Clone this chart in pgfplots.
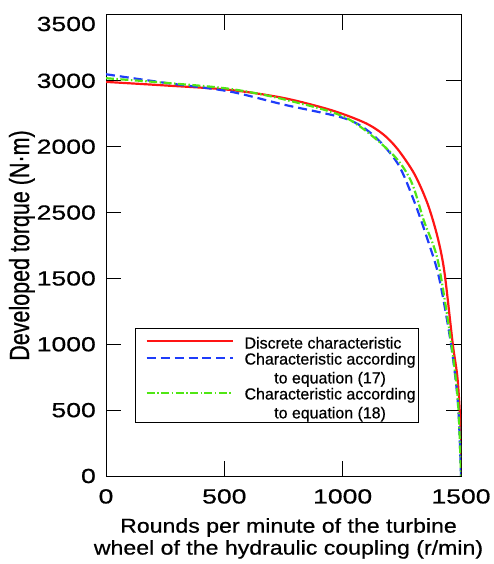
\documentclass[border=0pt]{standalone}
\usepackage{pgfplots}
\pgfplotsset{compat=1.18}
\usepackage{fontspec}
\setmainfont{Liberation Sans}[FakeBold=0.6]
\newfontfamily\tickfont{Liberation Sans}[FakeStretch=1.3, FakeBold=0.6]
\newfontfamily\xlabfont{Liberation Sans}[FakeStretch=1.16, FakeBold=0.6]
\newfontfamily\ylabfont{Liberation Sans}[FakeStretch=0.77, FakeBold=0.6]
\definecolor{cred}{RGB}{255,20,20}
\definecolor{cblue}{RGB}{30,60,250}
\definecolor{cgreen}{RGB}{80,230,20}
\newcommand\lsa{\rule[-3bp]{0pt}{20bp}}
\newcommand\lsb{\rule[-3bp]{0pt}{15bp}}
\begin{document}
\begin{tikzpicture}
\begin{axis}[
    name=ax,
    scale only axis,
    width=355bp, height=461bp,
    xmin=0, xmax=1500, ymin=0, ymax=3500,
    xtick={0,500,1000,1500},
    ytick={0,500,1000,1500,2000,2500,3000,3500},
    yticklabels={0,500,1000,1500,2500,2000,3000,{}},
    tick align=inside,
    xtick pos=both,
    ytick pos=both,
    major tick length=15bp,
    axis line style={line width=1pt},
    tick style={line width=1pt, black},
    /pgf/number format/assume math mode=true,
    /pgf/number format/1000 sep={},
    tick label style={font=\tickfont\fontsize{20.5}{24}\selectfont, inner sep=0pt},
    yticklabel style={anchor=east, xshift=-10bp},
    xticklabel style={anchor=north, yshift=-13bp},
    xlabel={Rounds per minute of the turbine\\wheel of the hydraulic coupling (r/min)},
    xlabel style={font=\xlabfont\fontsize{20}{22}\selectfont, align=center,
        at={(axis description cs:0.5,0)}, anchor=north, inner sep=0pt,
        yshift=-42bp, xshift=5bp},
    ylabel={Developed torque (N·m)},
    ylabel style={font=\ylabfont\fontsize{28}{30}\selectfont,
        at={(axis description cs:-0.237,0.5)}, anchor=center, inner sep=0pt},
    legend style={at={(0.082,0.321)}, anchor=north west,
        font=\fontsize{16}{19}\selectfont, draw=black, line width=1pt,
        nodes={align=center, inner xsep=2bp, inner ysep=0bp},
        inner xsep=1bp, inner ysep=3bp, row sep=2.5bp, column sep=9bp},
    legend cell align=left,
    legend image code/.code={\path (0bp,0bp); \draw[#1, line width=1.8pt] (9bp,0bp) -- (95bp,0bp);},
]
\addplot[cred, line width=2.2pt, smooth, tension=0.5] coordinates {
    (0,2992) (250,2965) (520,2932) (750,2870) (951,2778) (1091,2684)
    (1170,2596) (1232,2482) (1303,2293) (1359,2066) (1401,1813) (1430,1548)
    (1465,1005) (1486,727) (1500,298) (1501,0)
};
\addlegendentry{\lsa Discrete characteristic}
\addplot[cblue, line width=2.2pt, dash pattern=on 9pt off 5pt, smooth, tension=0.5,
    legend image post style={yshift=11bp}] coordinates {
    (0,3050) (250,2985) (520,2920) (750,2820) (1014,2712) (1132,2583)
    (1233,2371) (1301,2091) (1360,1788) (1407,1508) (1457,1008)
    (1487,553) (1500,0)
};
\addlegendentry{\lsb Characteristic according\\\lsb to equation (17)}
\addplot[cgreen, line width=2.2pt, dash pattern=on 8pt off 2.5pt on 1.5pt off 2.5pt, smooth, tension=0.5,
    legend image post style={yshift=11bp}] coordinates {
    (0,3020) (250,2985) (520,2940) (750,2860) (1014,2720) (1204,2455)
    (1288,2242) (1343,1939) (1402,1636) (1457,1030) (1487,570) (1500,0)
};
\addlegendentry{\lsb Characteristic according\\\lsb to equation (18)}
\end{axis}
\node[anchor=east, inner sep=0pt, font=\tickfont\fontsize{20.5}{24}\selectfont]
    at ([xshift=-10bp,yshift=-9bp]ax.north west) {3500};
\pgfresetboundingbox
\path ([xshift=-106bp,yshift=-88bp]ax.south west) rectangle ([xshift=32bp,yshift=15bp]ax.north east);
\end{tikzpicture}
\end{document}
